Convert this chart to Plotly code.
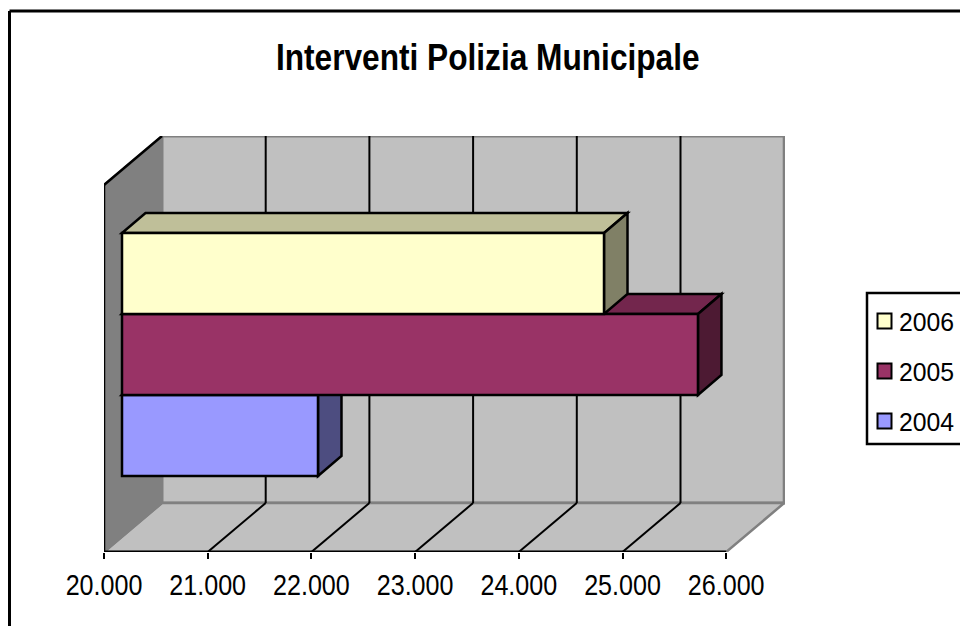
import plotly.graph_objects as go

title = "Interventi Polizia Municipale"
years = ["2004", "2005", "2006"]
values = [21890, 25554, 24648]
front_colors = ["#9999FF", "#993366", "#FFFFCC"]
top_colors = ["#7373BF", "#73264D", "#BFBF99"]
side_colors = ["#4D4D80", "#4D1A33", "#808066"]
tick_values = [20000, 21000, 22000, 23000, 24000, 25000, 26000]
tick_labels = ["20.000", "21.000", "22.000", "23.000", "24.000", "25.000", "26.000"]

W, H = 960, 626
X_LEFT, X_RIGHT, Y_BOTTOM, Y_TOP = 104, 785, 552, 136
PX_PER_UNIT = 103.7 / 1000
PX_PER_BAND = 81.0
BAND0_BOTTOM_PX = 476
FONT = "Liberation Sans"

units_x = lambda px: px / PX_PER_UNIT
bands_y = lambda px: px / PX_PER_BAND

xmin = tick_values[0]
xmax = tick_values[-1]
x_end = xmin + units_x(X_RIGHT - X_LEFT)
y_floor = -bands_y(Y_BOTTOM - BAND0_BOTTOM_PX)
y_end = bands_y(BAND0_BOTTOM_PX - Y_TOP)
DX, DY = units_x(58), bands_y(49)
BX, BDX, BDY = units_x(18), units_x(23.5), bands_y(20)


def poly(points, fill, line_color="black", width=2.5, layer="below"):
    path = "M " + " L ".join(f"{x},{y}" for x, y in points) + " Z"
    return dict(type="path", path=path, xref="x", yref="y", fillcolor=fill,
                line=dict(color=line_color, width=width), layer=layer)


def seg(x0, y0, x1, y1, color="black", width=2):
    return dict(type="line", x0=x0, y0=y0, x1=x1, y1=y1, xref="x", yref="y",
                line=dict(color=color, width=width), layer="below")


def page_rect(x0, y0, x1, y1, fill, width=2.5):
    return dict(type="rect", xref="paper", yref="paper", x0=x0 / W, x1=x1 / W,
                y0=1 - y1 / H, y1=1 - y0 / H, fillcolor=fill,
                line=dict(color="black", width=width), layer="above")


shapes = []
# walls and floor
shapes.append(poly([(xmin + DX, y_floor + DY), (xmax + DX, y_floor + DY), (xmax + DX, y_end), (xmin + DX, y_end)],
                   "#C0C0C0", "#808080", 3))
shapes.append(poly([(xmin, y_floor), (xmax, y_floor), (xmax + DX, y_floor + DY), (xmin + DX, y_floor + DY)],
                   "#C0C0C0", "#808080", 2.5))
shapes.append(poly([(xmin, y_floor), (xmin + DX, y_floor + DY), (xmin + DX, y_end), (xmin, y_end - DY)],
                   "#808080", "#808080", 2))
shapes.append(seg(xmin, y_floor, xmin, y_end - DY, width=2.5))
shapes.append(seg(xmin, y_end - DY, xmin + DX, y_end, width=2.5))
# grid lines
for t in tick_values[1:-1]:
    shapes.append(seg(t, y_floor, t + DX, y_floor + DY))
    shapes.append(seg(t + DX, y_floor + DY, t + DX, y_end))
shapes.append(seg(xmin, y_floor, xmax, y_floor, width=3))
# depth faces of the bars, back to front
for i, v in enumerate(values):
    x0, x1 = xmin + BX, v + BX
    y0, y1 = i, i + 1
    shapes.append(poly([(x0, y1), (x1, y1), (x1 + BDX, y1 + BDY), (x0 + BDX, y1 + BDY)], top_colors[i]))
    shapes.append(poly([(x1, y0), (x1, y1), (x1 + BDX, y1 + BDY), (x1 + BDX, y0 + BDY)], side_colors[i]))

# outer frame of the chart
for a, b, c, d in [(9.5, 11, 970, 11), (9.5, 11, 9.5, 640)]:
    shapes.append(dict(type="line", xref="paper", yref="paper", x0=a / W, x1=c / W,
                       y0=1 - b / H, y1=1 - d / H, line=dict(color="black", width=3), layer="below"))

annotations = [dict(text=title, xref="paper", yref="paper", x=487.5 / W, y=1 - 58 / H,
                    xanchor="center", yanchor="middle", showarrow=False,
                    font=dict(size=37, weight="bold"))]

# legend box, newest year on top
shapes.append(page_rect(867, 293, 975, 444, "white"))
for row, i in enumerate(reversed(range(len(years)))):
    cy = 321 + 50 * row
    shapes.append(page_rect(877.5, cy - 7.5, 891.5, cy + 7.5, front_colors[i], 2))
    annotations.append(dict(text=years[i], xref="paper", yref="paper", x=926.5 / W, y=1 - (cy + 1) / H,
                            xanchor="center", yanchor="middle", showarrow=False, borderpad=0,
                            font=dict(size=26.5)))

fig = go.Figure()
for i, (yr, v) in enumerate(zip(years, values)):
    fig.add_trace(go.Bar(
        name=yr, orientation="h", y=[i + 0.5], x=[v - xmin], base=[xmin + BX], width=1,
        marker=dict(color=front_colors[i], line=dict(color="black", width=2.5)),
        showlegend=False,
    ))

fig.update_layout(
    width=W, height=H, autosize=False,
    margin=dict(l=0, r=0, t=0, b=0),
    paper_bgcolor="white", plot_bgcolor="rgba(0,0,0,0)",
    barmode="overlay", showlegend=False,
    font=dict(family=FONT, color="black"),
    xaxis=dict(domain=[X_LEFT / W, X_RIGHT / W], range=[xmin, x_end], tickmode="array",
               tickvals=tick_values, ticktext=tick_labels, ticks="outside", ticklen=6,
               tickwidth=1.5, tickcolor="black", showgrid=False, zeroline=False,
               showline=False, tickfont=dict(size=29), tickangle=0, automargin=False,
               ticklabelstandoff=1),
    yaxis=dict(domain=[1 - Y_BOTTOM / H, 1 - Y_TOP / H], range=[y_floor, y_end], visible=False),
    shapes=shapes,
    annotations=annotations,
)

# The reference text is tall and tightly set, which no installed font gives directly.
condense = """
document.body.style.margin='0';document.body.style.overflow='hidden';
function condenseText(){
  document.querySelectorAll('.main-svg text').forEach(function(t){
    var s = parseFloat(t.style.fontSize);
    var r = s > 35 ? 0.855 : (s < 28.5 ? 0.935 : 0.865);
    if (t.textContent) {
      t.setAttribute('textLength', t.getComputedTextLength()*r);
      t.setAttribute('lengthAdjust','spacingAndGlyphs');
    }
  });
}
setTimeout(condenseText, 50);
"""
fig.write_html("out.html", config=dict(displayModeBar=False), post_script=condense)
